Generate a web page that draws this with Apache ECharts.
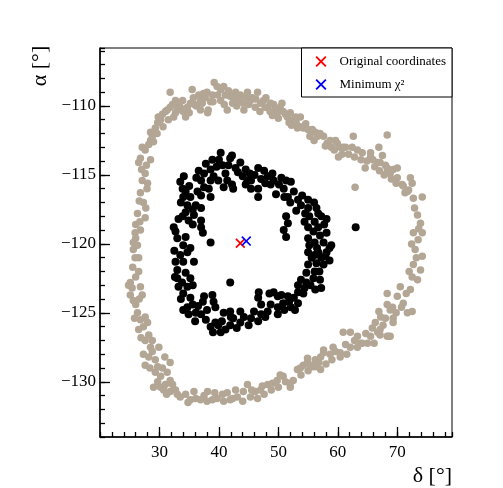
<!DOCTYPE html>
<html>
<head>
<meta charset="utf-8">
<script src="https://cdn.jsdelivr.net/npm/echarts@6/dist/echarts.min.js"></script>
<style>
  html, body { margin: 0; padding: 0; background: #fff; }
  #main { width: 503px; height: 488px; }
</style>
</head>
<body>
<div id="main"></div>
<script>
// outer (grey) ring, [delta, alpha]
var outerRing = [
  [26.5,-114.1],[26.8,-113.8],[27.6,-113.2],[27.1,-113.0],[28.2,-112.8],[28.5,-112.5],[28.8,-112.2],[28.5,-111.9],
  [29.3,-111.6],[29.7,-111.2],[30.2,-111.0],[29.8,-110.8],[30.5,-110.6],[31.0,-110.4],[31.3,-110.3],[31.8,-110.1],
  [32.2,-109.9],[31.8,-109.0],[32.7,-110.5],[32.7,-109.6],[33.2,-109.9],[33.5,-110.1],[33.9,-109.6],[34.4,-110.8],
  [34.7,-110.1],[35.2,-109.8],[35.5,-108.8],[35.7,-109.4],[36.2,-110.0],[36.6,-109.2],[36.9,-109.6],[37.2,-109.8],
  [37.7,-109.4],[38.1,-110.5],[38.2,-110.3],[38.6,-109.7],[38.9,-109.2],[39.2,-108.3],[39.7,-108.6],[40.3,-108.8],
  [40.3,-109.6],[40.8,-108.6],[41.1,-109.2],[41.4,-110.3],[41.9,-109.3],[42.3,-109.8],[42.8,-109.0],[43.3,-109.6],
  [43.6,-109.2],[44.1,-109.8],[44.5,-109.4],[44.8,-109.0],[45.3,-109.6],[45.6,-109.4],[46.1,-110.1],[46.5,-109.0],
  [47.0,-109.8],[47.5,-109.6],[47.8,-110.1],[48.2,-110.1],[48.7,-109.8],[49.2,-109.9],[49.5,-110.3],[49.8,-110.5],
  [50.3,-110.1],[50.8,-110.4],[51.2,-110.6],[51.5,-110.8],[52.0,-110.5],[52.5,-111.0],[52.9,-110.8],[53.2,-111.6],
  [53.7,-110.8],[53.7,-111.5],[54.2,-111.6],[55.0,-111.7],[55.7,-111.7],[56.2,-111.9],[56.6,-112.2],[57.6,-112.2],
  [58.2,-112.7],[58.7,-112.5],[59.6,-112.5],[59.9,-112.7],[60.4,-113.0],[60.1,-113.7],[60.9,-113.0],[61.3,-113.0],
  [62.6,-112.2],[62.4,-113.0],[63.3,-113.2],[64.1,-113.4],[65.5,-113.4],[65.5,-113.7],[65.9,-113.9],[64.6,-114.5],
  [66.7,-114.1],[66.9,-113.0],[67.1,-114.1],[67.5,-113.6],[68.3,-112.1],[68.0,-114.3],[68.3,-114.5],[68.3,-114.8],
  [68.8,-114.9],[69.3,-114.6],[70.0,-114.5],[70.0,-115.2],[62.9,-115.9],[70.8,-115.7],[72.2,-115.2],[72.5,-115.6],
  [71.7,-116.2],[72.7,-116.7],[74.2,-116.6],[71.3,-116.3],[73.4,-117.9],[73.9,-118.5],
  [29.0,-112.6],[29.6,-112.0],[30.6,-111.5],[31.5,-111.0],[32.4,-110.8],[33.0,-110.3],[34.0,-110.4],[35.0,-110.5],
  [35.9,-109.9],[36.9,-110.3],[37.4,-109.1],[38.0,-109.0],[39.0,-109.7],[39.8,-109.2],[40.9,-109.9],[41.6,-108.9],
  [42.5,-109.4],[43.0,-110.0],[44.2,-110.3],[45.0,-109.9],[46.2,-109.5],[46.9,-110.4],[47.9,-109.4],[48.6,-110.4],
  [49.0,-110.7],[50.0,-110.9],[50.6,-109.8],[51.8,-111.2],[52.2,-111.4],[53.0,-111.2],[54.6,-111.3],[55.3,-112.2],
  [56.0,-112.5],[57.0,-112.0],[57.9,-112.9],[58.9,-113.0],[59.4,-113.2],[60.7,-113.5],[61.8,-113.5],[62.8,-113.7],
  [63.9,-113.9],[64.9,-114.0],[66.2,-114.4],[67.0,-114.7],[67.8,-115.0],[69.0,-115.3],[69.8,-115.6],[71.0,-115.8],
  [71.9,-116.1],
  [72.7,-119.2],[74.2,-119.2],[73.5,-119.7],[73.0,-120.4],[74.2,-120.9],[72.7,-121.5],[73.9,-121.9],[72.5,-122.4],
  [73.4,-122.6],[70.5,-123.1],[72.2,-123.3],[68.3,-123.6],[70.0,-123.8],[71.0,-124.3],[68.3,-124.4],[71.7,-125.0],
  [69.3,-125.4],[66.3,-125.7],[67.6,-125.9],[68.5,-126.7],[66.1,-127.2],[67.1,-126.2],[68.0,-125.4],[69.2,-124.6],
  [66.9,-124.9],[68.8,-124.8],[72.5,-124.9],[68.8,-126.7],[66.7,-126.4],[65.5,-126.7],[64.1,-127.2],[63.3,-127.5],
  [62.1,-127.5],[60.9,-126.4],[62.1,-126.4],[60.4,-127.9],[59.2,-127.5],[58.7,-128.0],[57.6,-127.7],[57.1,-128.2],
  [56.2,-128.4],[54.9,-128.3],[54.2,-128.8],[53.2,-129.1],[52.5,-129.9],[52.0,-130.4],[57.1,-129.1],[55.7,-128.9],
  [54.9,-128.6],[57.6,-127.9],[60.4,-128.2],[63.3,-126.7],[65.0,-127.2],[68.3,-126.7],[69.3,-125.7],[61.3,-127.3],
  [59.6,-127.8],[63.8,-127.2],[67.1,-126.6],
  [72.9,-117.4],[73.6,-118.9],[72.4,-120.0],[73.2,-121.0],[72.0,-122.0],[71.5,-123.6],[70.7,-124.6],[69.8,-125.0],
  [67.2,-125.3],[65.8,-126.1],[64.7,-126.5],[62.8,-127.0],[61.5,-128.0],[59.0,-128.4],[58.0,-128.7],[56.8,-128.6],
  [55.0,-129.2],[53.8,-129.5],
  [50.8,-129.6],[52.0,-130.1],[49.8,-129.9],[48.2,-130.2],[47.0,-130.6],[45.3,-131.1],[44.8,-130.2],[43.1,-131.1],
  [41.4,-130.8],[39.7,-131.2],[38.1,-130.7],[36.9,-131.3],[35.2,-131.3],[33.5,-131.1],[31.8,-130.7],[30.2,-130.4],
  [29.7,-130.0],[31.3,-129.3],[31.8,-128.6],[29.3,-128.4],[28.8,-127.0],[44.1,-130.7],[46.1,-130.7],[49.0,-130.1],
  [42.3,-131.2],[40.6,-130.9],[38.9,-131.3],[36.1,-131.2],[34.4,-130.9],[32.7,-130.6],[31.0,-130.2],[41.9,-131.3],
  [47.3,-130.3],[50.3,-129.5],[53.7,-129.0],[55.4,-128.8],[56.2,-128.9],
  [51.2,-130.0],[50.0,-130.4],[48.8,-130.6],[47.6,-130.9],[46.5,-131.2],[45.5,-130.6],[44.0,-131.4],[42.8,-130.6],
  [40.8,-131.4],[39.3,-130.8],[38.0,-131.4],[37.5,-131.0],[35.8,-130.7],[34.8,-131.5],[33.0,-130.9],[32.2,-130.2],
  [31.2,-130.9],[30.5,-129.0],[30.9,-128.2],[29.9,-127.5],
  [28.5,-113.9],[27.6,-114.9],[28.0,-115.6],[26.8,-116.3],[27.3,-117.0],[26.3,-117.8],[27.6,-118.1],[26.8,-119.0],
  [25.6,-119.9],[25.6,-120.4],[26.5,-121.0],[25.5,-121.7],[26.5,-122.0],[25.1,-122.8],[26.8,-123.1],[27.1,-123.7],
  [25.6,-124.1],[26.3,-125.0],[27.6,-125.3],[28.0,-125.7],[26.5,-126.2],[27.6,-127.0],[28.5,-127.5],[28.8,-127.8],
  [27.6,-128.8],[29.7,-128.9],[30.2,-129.6],[29.0,-130.4],[31.8,-129.9],[30.7,-130.6],[26.0,-118.6],[24.8,-123.0],
  [25.1,-123.7],[26.0,-124.4],[28.2,-126.6],[26.8,-125.5],[29.3,-129.3],[27.3,-128.0],[28.2,-128.2],[26.0,-119.6],
  [27.1,-115.4],[27.8,-114.3],
  [27.0,-114.6],[27.9,-116.0],[26.6,-116.9],[27.7,-117.4],[26.7,-118.4],[25.9,-119.2],[26.3,-120.1],[25.9,-121.0],
  [26.0,-122.4],[25.4,-123.2],[26.6,-124.0],[25.8,-125.4],[27.3,-126.0],[26.9,-126.8],[28.4,-129.0]
];

// inner (black) ring, [delta, alpha]
var innerRing = [
  [40.3,-113.4],[38.9,-113.9],[41.9,-113.8],[43.6,-114.1],[42.8,-114.5],[40.6,-114.3],[38.6,-114.6],[36.6,-114.7],
  [37.0,-115.4],[39.1,-115.1],[41.1,-114.9],[44.5,-114.6],[44.0,-115.1],[46.6,-114.5],[47.6,-114.7],[47.1,-115.3],
  [45.4,-115.4],[48.2,-115.1],[49.2,-115.4],[48.7,-115.7],[50.1,-115.7],[51.3,-115.4],[52.1,-115.5],[50.9,-116.0],
  [52.6,-116.2],[49.6,-116.4],[51.6,-116.6],[53.3,-116.8],[55.0,-116.8],[53.8,-117.2],[55.0,-117.4],[56.4,-117.4],
  [56.7,-117.8],[58.1,-118.2],[55.2,-118.0],[56.1,-118.4],[54.4,-118.4],[55.0,-118.8],[56.7,-118.8],[57.7,-118.6],
  [55.9,-119.1],[58.1,-119.2],[55.0,-119.6],[56.1,-119.9],[55.2,-120.1],[57.6,-119.9],[58.9,-120.1],[58.1,-120.6],
  [56.7,-120.6],[55.0,-120.6],[58.6,-121.2],[57.2,-121.0],[56.4,-121.4],[55.0,-121.5],[57.6,-121.5],[56.1,-122.0],
  [54.7,-122.1],[56.9,-122.0],[55.9,-122.5],[57.2,-123.2],[54.4,-123.2],[54.2,-123.6],[53.3,-123.5],[52.6,-123.9],
  [51.8,-124.2],[53.3,-124.3],[50.8,-124.3],[52.1,-124.6],[49.9,-124.6],[49.2,-123.5],[49.9,-123.8],[46.7,-123.5],
  [46.6,-123.9],[48.2,-124.9],[47.1,-125.1],[45.9,-124.9],[45.4,-125.4],[44.2,-125.3],[43.6,-125.7],[42.4,-125.4],
  [41.9,-125.9],[41.1,-126.2],[40.3,-126.4],[39.9,-125.9],[39.4,-125.7],[38.6,-126.0],[37.8,-125.5],[37.0,-125.1],
  [36.1,-125.0],[34.9,-125.1],[34.7,-124.6],[35.6,-124.4],[35.2,-123.9],[37.3,-124.2],[37.5,-123.8],[38.9,-123.7],
  [39.1,-124.2],[39.4,-124.6],[40.8,-125.0],[41.9,-124.9],[43.6,-124.9],[34.0,-123.6],[33.2,-123.1],[34.7,-123.1],
  [35.6,-123.0],[33.0,-122.5],[35.2,-122.5],[34.4,-122.1],[33.0,-121.9],[32.7,-121.3],[34.0,-121.3],[35.8,-121.3],
  [34.7,-120.6],[35.2,-120.3],[34.0,-120.1],[33.0,-119.6],[34.4,-119.5],[32.7,-119.1],[32.4,-118.8],[37.0,-118.8],
  [37.3,-119.2],[37.0,-118.3],[34.9,-118.3],[35.8,-117.9],[34.4,-117.7],[35.6,-117.5],[37.0,-117.4],[34.7,-117.2],
  [36.1,-117.2],[34.0,-116.6],[35.2,-116.6],[37.0,-116.5],[33.9,-116.0],[34.4,-116.2],[36.4,-116.2],[33.5,-115.5],
  [37.5,-115.9],[38.3,-116.0],[38.6,-115.4],[38.6,-116.6],[37.5,-114.9],[39.9,-115.4],[40.8,-115.9],[41.4,-115.4],
  [42.2,-115.7],[42.4,-116.0],[44.5,-115.7],[45.4,-116.0],[46.6,-116.6],[46.6,-116.0],[44.8,-115.4],[51.3,-118.0],
  [51.6,-118.5],[50.9,-119.0],[51.3,-119.5],[38.6,-119.9],[41.9,-122.8],[51.6,-123.8],[53.3,-123.0],[54.7,-122.8],
  [56.1,-120.8],[58.6,-120.3],[49.9,-125.1],[47.1,-124.4],[48.7,-124.4],[63.0,-118.8],
  [37.8,-114.2],[39.6,-114.4],[40.0,-113.9],[41.6,-114.3],[42.2,-113.6],[43.2,-114.8],[45.2,-114.9],[46.0,-115.0],
  [47.8,-115.6],[49.0,-114.9],[50.5,-115.2],[51.0,-116.6],[52.0,-117.0],[53.0,-117.6],[54.0,-116.5],[54.5,-117.8],
  [56.0,-117.0],[57.2,-118.0],[57.0,-119.4],[56.5,-120.3],[57.9,-120.9],[55.6,-121.0],[57.0,-122.6],[55.4,-123.0],
  [56.2,-123.3],[53.8,-122.6],[52.8,-124.8],[51.0,-124.8],[50.5,-123.7],[48.5,-123.6],[47.8,-125.3],[46.6,-125.6],
  [45.0,-125.9],[43.0,-126.1],[42.0,-125.3],[40.5,-125.6],[39.0,-126.4],[38.0,-124.8],[36.5,-124.5],[36.0,-125.6],
  [34.0,-124.8],[33.6,-124.0],[33.8,-122.8],[32.6,-122.4],[32.5,-120.5],[33.5,-120.8],[33.2,-118.2],[33.6,-117.0],
  [34.1,-115.1],[35.0,-115.8],[36.2,-115.2],[35.6,-118.6],[33.9,-118.0]
];

var originalPoint = [[43.6, -119.95]];
var minChi2Point = [[44.6, -119.8]];

var xLabels = [30, 40, 50, 60, 70];
var yLabels = [-130, -125, -120, -115, -110];

var font = "Liberation Serif";
var crossPath = "path://M0,1.2L1.2,0L5,3.8L8.8,0L10,1.2L6.2,5L10,8.8L8.8,10L5,6.2L1.2,10L0,8.8L3.8,5Z";

function minus(v) {
  return v < 0 ? "\u2212" + Math.abs(v) : String(v);
}

var myChart = echarts.init(document.getElementById("main"), null, { renderer: "canvas" });
myChart.setOption({
  animation: false,
  backgroundColor: "#fff",
  grid: {
    left: 100, right: 51, top: 48, bottom: 51,
    show: true, borderColor: "#000", borderWidth: 1, backgroundColor: "transparent"
  },
  xAxis: [
    {
      type: "value", min: 20, max: 79.2, position: "bottom",
      axisLine: { show: true, lineStyle: { color: "#000", width: 1.5 } },
      axisTick: { show: true, inside: true, length: 10, customValues: xLabels, lineStyle: { color: "#000", width: 1.3 } },
      axisLabel: { customValues: xLabels, color: "#000", fontFamily: font, fontSize: 17, margin: 7 },
      splitLine: { show: false }
    },
    {
      type: "value", min: 20, max: 79.2, interval: 2, position: "bottom",
      axisLine: { show: false },
      axisTick: { show: true, inside: true, length: 5, lineStyle: { color: "#000", width: 1.3 } },
      axisLabel: { show: false },
      splitLine: { show: false }
    }
  ],
  yAxis: [
    {
      type: "value", min: -134, max: -105.8, position: "left",
      axisLine: { show: true, lineStyle: { color: "#000", width: 1.5 } },
      axisTick: { show: true, inside: true, length: 10, customValues: yLabels, lineStyle: { color: "#000", width: 1.3 } },
      axisLabel: { customValues: yLabels, formatter: minus, color: "#000", fontFamily: font, fontSize: 17, margin: 4 },
      splitLine: { show: false }
    },
    {
      type: "value", min: -134, max: -105.8, interval: 1, position: "left",
      axisLine: { show: false },
      axisTick: { show: true, inside: true, length: 5, lineStyle: { color: "#000", width: 1.3 } },
      axisLabel: { show: false },
      splitLine: { show: false }
    }
  ],
  legend: {
    right: 51, top: 48,
    orient: "vertical",
    selectedMode: false,
    backgroundColor: "#fff",
    borderColor: "#000", borderWidth: 1, borderRadius: 0,
    padding: [7, 6, 6, 14],
    itemGap: 10, itemWidth: 11, itemHeight: 11,
    textStyle: { fontFamily: font, fontSize: 13, color: "#000", padding: [0, 0, 0, 8] },
    data: [
      { name: "Original coordinates", icon: crossPath },
      { name: "Minimum \u03c7\u00b2", icon: crossPath }
    ]
  },
  graphic: [
    {
      type: "text", x: 40, y: 66, rotation: Math.PI / 2,
      style: { text: "\u03b1 [\u00b0]", font: "22px Liberation Serif", fill: "#000", textAlign: "center", textVerticalAlign: "middle" }
    },
    {
      type: "text", x: 452, y: 476,
      style: { text: "\u03b4 [\u00b0]", font: "22px Liberation Serif", fill: "#000", textAlign: "right", textVerticalAlign: "middle" }
    }
  ],
  series: [
    {
      name: "outer", type: "scatter", data: outerRing, symbolSize: 7.5,
      itemStyle: { color: "#b3a695", opacity: 1 }, silent: true
    },
    {
      name: "inner", type: "scatter", data: innerRing, symbolSize: 8,
      itemStyle: { color: "#000", opacity: 1 }, silent: true
    },
    {
      name: "Original coordinates", type: "scatter", data: originalPoint,
      symbol: crossPath, symbolSize: 10, itemStyle: { color: "#ff0000", opacity: 1 }, silent: true, z: 5
    },
    {
      name: "Minimum \u03c7\u00b2", type: "scatter", data: minChi2Point,
      symbol: crossPath, symbolSize: 10, itemStyle: { color: "#0000ff", opacity: 1 }, silent: true, z: 5
    }
  ]
});
</script>
</body>
</html>
